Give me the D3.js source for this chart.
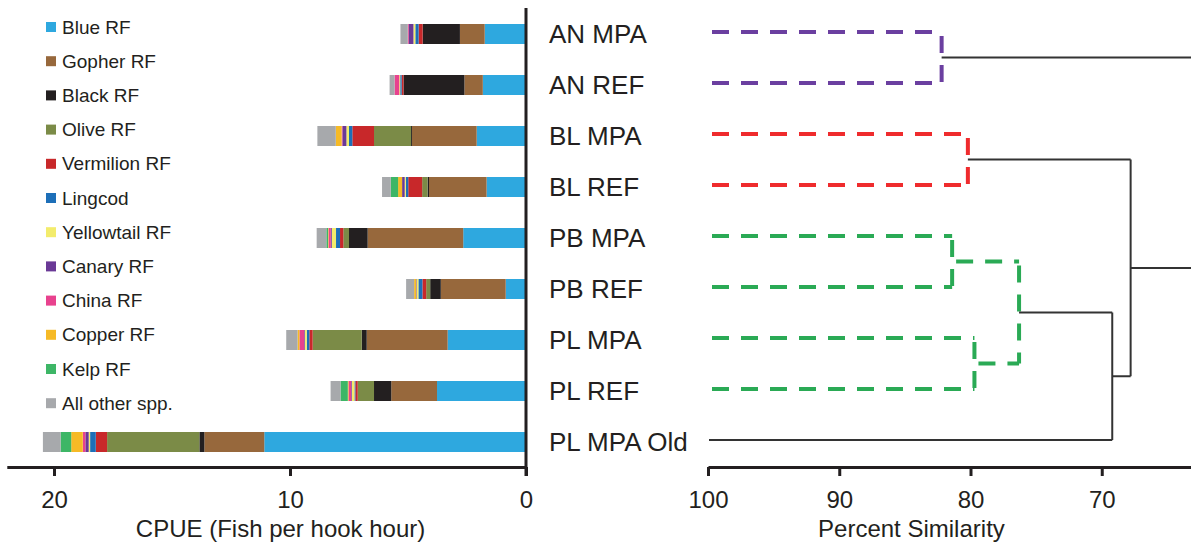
<!DOCTYPE html>
<html>
<head>
<meta charset="utf-8">
<script src="https://cdn.jsdelivr.net/npm/d3@7"></script>
<style>
body { margin: 0; background: #fff; }
text { font-family: "Liberation Sans", Arial, sans-serif; fill: #231f20; }
</style>
</head>
<body>
<svg width="1191" height="546"></svg>
<script>
const sites = ['AN MPA', 'AN REF', 'BL MPA', 'BL REF', 'PB MPA', 'PB REF', 'PL MPA', 'PL REF', 'PL MPA Old'];

const species = ['Blue RF', 'Gopher RF', 'Black RF', 'Olive RF', 'Vermilion RF', 'Lingcod',
    'Yellowtail RF', 'Canary RF', 'China RF', 'Copper RF', 'Kelp RF', 'All other spp.'];

// CPUE per site, one value per species (same order as species)
const cpue = [
    [1.75, 1.05, 1.58, 0, 0.17, 0.14, 0.08, 0.20, 0.04, 0, 0, 0.31],
    [1.83, 0.78, 2.58, 0, 0.08, 0.06, 0.04, 0, 0.20, 0, 0, 0.21],
    [2.09, 2.74, 0.04, 1.57, 0.92, 0.14, 0.11, 0.17, 0.03, 0.25, 0, 0.78],
    [1.67, 2.44, 0.06, 0.23, 0.59, 0.10, 0.05, 0.11, 0, 0.17, 0.31, 0.37],
    [2.66, 4.05, 0.79, 0.24, 0.14, 0.17, 0.18, 0.04, 0.10, 0.02, 0.07, 0.41],
    [0.86, 2.75, 0.45, 0.17, 0.16, 0.17, 0.08, 0.02, 0, 0.08, 0, 0.34],
    [3.32, 3.43, 0.21, 2.08, 0.14, 0.11, 0.08, 0.03, 0.20, 0.08, 0, 0.48],
    [3.77, 1.94, 0.73, 0.69, 0.10, 0.04, 0.11, 0.03, 0.11, 0.03, 0.31, 0.42],
    [11.09, 2.54, 0.21, 3.91, 0.48, 0.24, 0.06, 0.14, 0.11, 0.49, 0.45, 0.75]
];

const cpueTicks = [20, 10, 0];
const simTicks = [100, 90, 80, 70];

// cluster joins: two children (site or cluster) and percent similarity of the join
const clusters = [
    { id: 'AN', a: 'AN MPA', b: 'AN REF', sim: 82.2 },
    { id: 'BL', a: 'BL MPA', b: 'BL REF', sim: 80.2 },
    { id: 'PB', a: 'PB MPA', b: 'PB REF', sim: 81.4 },
    { id: 'PL', a: 'PL MPA', b: 'PL REF', sim: 79.7 },
    { id: 'PBPL', a: 'PB', b: 'PL', sim: 76.3 },
    { id: 'PLALL', a: 'PBPL', b: 'PL MPA Old', sim: 69.2 },
    { id: 'BLALL', a: 'BL', b: 'PLALL', sim: 67.8 },
    { id: 'ROOT', a: 'AN', b: 'BLALL', sim: 58 }
];

const speciesColors = ['#2ea8df', '#97683c', '#231f20', '#7b8b47', '#c8282a', '#1d6fb8',
    '#f3ec6c', '#6a3996', '#e8428e', '#f6ba26', '#3db666', '#a7a9ac'];

const clusterStroke = { AN: '#6b3fa0', BL: '#ef2b2d', PB: '#2aaa55', PL: '#2aaa55', PBPL: '#2aaa55' };

const svg = d3.select('svg');
const ink = '#231f20';

const color = d3.scaleOrdinal().domain(species).range(speciesColors);

const yRow = d3.scalePoint()
    .domain(sites)
    .range([34, 442]);

const xC = d3.scaleLinear()
    .domain([0, 22])
    .range([526, 526 - 22 * 23.6]);

const xSim = d3.scaleLinear()
    .domain([100, 63.2])
    .range([708, 1191]);

// stacked bars
const rows = sites.map((s, i) => {
    const r = { site: s };
    species.forEach((sp, j) => r[sp] = cpue[i][j]);
    return r;
});

const series = d3.stack().keys(species)(rows);

svg.append('g')
    .selectAll('g')
    .data(series)
    .join('g')
    .attr('fill', (d) => color(d.key))
    .selectAll('rect')
    .data((d) => d)
    .join('rect')
    .attr('x', (d) => xC(d[1]))
    .attr('width', (d) => xC(d[0]) - xC(d[1]))
    .attr('y', (d) => yRow(d.data.site) - 10)
    .attr('height', 20);

// left axis
const axisC = svg.append('g')
    .attr('transform', 'translate(0, 467)')
    .call(d3.axisBottom(xC).tickValues(cpueTicks).tickSize(9).tickSizeOuter(0).tickPadding(15));

axisC.select('.domain').attr('stroke', ink).attr('stroke-width', 3);
axisC.selectAll('.tick line').attr('stroke', ink).attr('stroke-width', 3);
axisC.selectAll('.tick text').attr('font-size', 24).attr('font-family', null).style('fill', ink);

svg.append('line')
    .attr('x1', xC(0)).attr('x2', xC(0))
    .attr('y1', 8).attr('y2', 476)
    .attr('stroke', ink)
    .attr('stroke-width', 3);

svg.append('text')
    .attr('x', xC(10.4))
    .attr('y', 537)
    .attr('text-anchor', 'middle')
    .attr('font-size', 24)
    .text('CPUE (Fish per hook hour)');

// legend
const legend = svg.append('g')
    .selectAll('g')
    .data(species)
    .join('g')
    .attr('transform', (d, i) => `translate(46, ${27 + i * 34.2})`);

legend.append('rect')
    .attr('y', -5)
    .attr('width', 10)
    .attr('height', 10)
    .attr('fill', (d) => color(d));

legend.append('text')
    .attr('x', 16)
    .attr('dy', '0.35em')
    .attr('font-size', 19)
    .text((d) => d);

// site labels
svg.append('g')
    .selectAll('text')
    .data(sites)
    .join('text')
    .attr('x', 549)
    .attr('y', (d) => yRow(d))
    .attr('dy', '0.35em')
    .attr('font-size', 26)
    .text((d) => d);

// dendrogram
const node = {};
sites.forEach((s) => node[s] = { sim: 100, y: yRow(s) - 2 });
clusters.forEach((c) => {
    node[c.id] = { sim: c.sim, y: (node[c.a].y + node[c.b].y) / 2 };
});

const dendro = svg.append('g');

clusters.forEach((c) => {
    const stroke = clusterStroke[c.id];
    const style = (sel) => {
        sel.attr('fill', 'none');
        if (stroke) {
            sel.attr('stroke', stroke)
                .attr('stroke-width', 4)
                .attr('stroke-dasharray', '17 12')
                .attr('stroke-dashoffset', -4);
        } else {
            sel.attr('stroke', '#333').attr('stroke-width', 2);
        }
    };
    [c.a, c.b].forEach((k) => {
        dendro.append('line')
            .attr('x1', xSim(node[k].sim) + (node[k].sim === 100 && !stroke ? 1 : 0))
            .attr('x2', xSim(c.sim))
            .attr('y1', node[k].y)
            .attr('y2', node[k].y)
            .call(style);
    });
    dendro.append('line')
        .attr('x1', xSim(c.sim))
        .attr('x2', xSim(c.sim))
        .attr('y1', node[c.a].y)
        .attr('y2', node[c.b].y)
        .call(style);
});

// right axis
const axisS = svg.append('g')
    .attr('transform', 'translate(0, 467)')
    .call(d3.axisBottom(xSim).tickValues(simTicks).tickSize(9).tickSizeOuter(0).tickPadding(15));

axisS.select('.domain').attr('stroke', ink).attr('stroke-width', 3);
axisS.selectAll('.tick line').attr('stroke', ink).attr('stroke-width', 3);
axisS.selectAll('.tick text').attr('font-size', 24).attr('font-family', null).style('fill', ink);

svg.append('text')
    .attr('x', xSim(84.5))
    .attr('y', 537)
    .attr('text-anchor', 'middle')
    .attr('font-size', 24)
    .text('Percent Similarity');
</script>
</body>
</html>
